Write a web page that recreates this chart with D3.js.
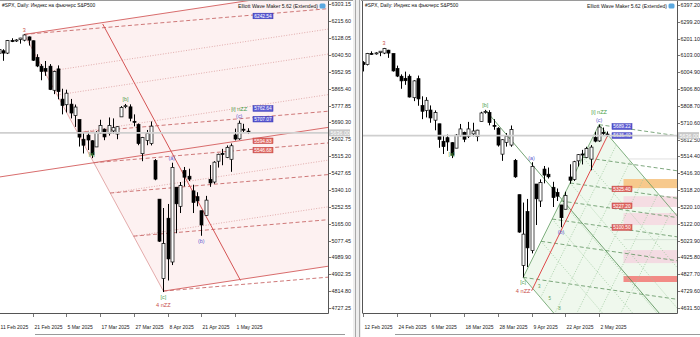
<!DOCTYPE html>
<html>
<head>
<meta charset="utf-8">
<script src="https://cdn.jsdelivr.net/npm/d3@7"></script>
<style>
  body { margin: 0; background: #fff; }
  svg text { font-family: "Liberation Sans", Arial, sans-serif; }
</style>
</head>
<body>
<svg id="chart" width="700" height="337"></svg>
<script>
// daily bars, 11 Feb 2025 .. 6 May 2025 (index 0..59)
const dates = ["11 Feb","12 Feb","13 Feb","14 Feb","17 Feb","18 Feb","19 Feb","20 Feb","21 Feb","24 Feb",
  "25 Feb","26 Feb","27 Feb","28 Feb","3 Mar","4 Mar","5 Mar","6 Mar","7 Mar","10 Mar",
  "11 Mar","12 Mar","13 Mar","14 Mar","17 Mar","18 Mar","19 Mar","20 Mar","21 Mar","24 Mar",
  "25 Mar","26 Mar","27 Mar","28 Mar","31 Mar","1 Apr","2 Apr","3 Apr","4 Apr","7 Apr",
  "8 Apr","9 Apr","10 Apr","11 Apr","14 Apr","15 Apr","16 Apr","17 Apr","21 Apr","22 Apr",
  "23 Apr","24 Apr","25 Apr","28 Apr","29 Apr","30 Apr","1 May","2 May","5 May","6 May"];
const opens  = [6049,6062,6050,6115,6114,6121,6117,6134,6114,6027, 5982,5970,5982,5857,5968,5811,5782,5785,5726,5705,
  5603,5624,5595,5563,5635,5655,5632,5646,5630,5719, 5775,5771,5696,5679,5528,5597,5581,5492,5292,4880,
  5193,4966,5354,5255,5441,5411,5335,5305,5232,5207, 5395,5381,5489,5529,5508,5499,5625,5605,5655,5645];
const highs  = [6076,6070,6118,6127,6122,6129,6147,6136,6115,6044, 5993,6009,5993,5959,5986,5865,5860,5812,5783,5705,
  5636,5642,5598,5645,5704,5659,5716,5711,5670,5775, 5786,5784,5732,5685,5615,5651,5695,5500,5292,5246,
  5267,5481,5354,5381,5459,5450,5367,5328,5232,5309, 5469,5489,5528,5553,5571,5581,5658,5700,5683,5660];
const lows   = [6042,6010,6045,6107,6108,6099,6111,6089,6009,5977, 5909,5932,5858,5837,5810,5732,5742,5711,5667,5565,
  5529,5547,5505,5563,5632,5598,5622,5632,5603,5719, 5764,5696,5670,5572,5489,5572,5571,5390,5070,4810,
  4870,4950,5115,5220,5358,5386,5220,5255,5102,5207, 5356,5372,5456,5468,5505,5434,5597,5600,5640,5630];
const closes = [6068,6050,6115,6114,6118,6128,6144,6117,6013,5983, 5955,5956,5861,5955,5850,5778,5842,5739,5770,5614,
  5572,5599,5522,5639,5675,5615,5675,5663,5668,5768, 5777,5712,5693,5581,5612,5633,5671,5396,5074,5062,
  4982,5457,5268,5363,5406,5396,5275,5283,5158,5287, 5376,5484,5525,5528,5561,5569,5604,5686,5650,5638];

const bidPrice = 5636;

const leftTicks  = [6303.15,6215.60,6128.05,6040.50,5952.95,5865.40,5777.85,5690.30,5602.75,5515.20,
  5427.65,5340.10,5252.55,5165.00,5077.45,4989.90,4902.35,4814.80,4727.25];
const rightTicks = [6397.20,6299.20,6201.10,6103.00,6004.90,5906.80,5808.70,5710.60,5612.50,5514.40,
  5416.30,5318.20,5220.10,5122.00,5023.90,4925.80,4827.70,4729.60,4631.50];
const leftDateIdx  = [0,8,16,24,32,40,48,56];
const rightDateIdx = [1,9,17,25,33,41,49,57];

// wave labels: [bar, price, text, kind]  kind: r = red, g = green, b = blue
const leftWaves  = [[6,6147,"3","r"],[30,5786,"[b]","g"],[22,5505,"[a]","g"],[41,5481,"(a)","b"],
  [48,5102,"(b)","b"],[57,5700,"(c)","b"],[57,5738,"[i] nZZ","g"],[39,4810,"[c]","g"],[39,4770,"4 nZZ","r"]];
const rightWaves = [[6,6147,"3","r"],[30,5786,"[b]","g"],[22,5505,"[a]","g"],[41,5481,"(a)","b"],
  [48,5102,"(b)","b"],[57,5700,"(c)","b"],[57,5746,"[i] nZZ","g"],[39,4810,"[c]","g"],[39,4762,"4 nZZ","r"]];

// price tags: [price, text, colour]
const leftTags  = [[6242.54,"6242.54","b"],[5762.64,"5762.64","b"],[5707.07,"5707.07","b"],
  [5594.83,"5594.83","r"],[5546.68,"5546.68","r"]];
const rightTags = [[5689.22,"5689.22","b"],[5636.40,"5636.40","b"],[5325.40,"5325.40","r"],
  [5227.20,"5227.20","r"],[5100.50,"5100.50","r"]];

// right-hand target zones: [low, high, colour]
const zones = [[5330,5383,"#f7c98c"],[5220,5283,"#f5dde3"],[5115,5185,"#f5dde3"],[4893,4969,"#f3dbe2"],[4783,4818,"#f28b86"]];

// fan anchors (bar, price)
const P3 = [6, 6147], A0 = [22, 5505], C0 = [39, 4815];
const fanLevels  = [0, 0.146, 0.236, 0.382, 0.5, 0.618, 0.786, 1];
const steepStyle = ["solid","dot","dot","dot","solid","dot","dot","solid"];
const flatStyle  = ["dash",null,null,"dash","dash","dash","dash","dash"];
const steepRise = 3.3, flatRise = 1.85;

const RC = [39, 4810], RTop = [57, 5700], RLast = [59, 5635], RStart = [41, 4732], RB = [30, 5786];
const gLevels = [0, 0.236, 0.382, 0.5, 0.618, 0.786, 1];
const gUpStarts = [0.25, 0.45, 0.65, 0.85, 1.05];
const gDrop = -28.7, gFlat = -3.5, gUp = 49.5;

const svg = d3.select("#chart");
const fs = 5.4;

function panel(opt) {
  const x = d3.scaleLinear().domain([0, 1]).range([opt.x0, opt.x0 + 4.215]);
  const y = d3.scaleLinear().domain(opt.domain).range([308, opt.top]);
  const g = svg.append("g");
  const clipId = "clip" + opt.id;
  svg.append("clipPath").attr("id", clipId).append("rect")
    .attr("x", opt.left).attr("y", 1).attr("width", opt.right - opt.left).attr("height", 312);
  const plot = g.append("g").attr("clip-path", `url(#${clipId})`);
  return { x, y, g, plot };
}

function seg(layer, x, y, p1, p2, color, style, w) {
  const dash = style === "dash" ? "4,2.5" : style === "dot" ? "1,1.6" : null;
  layer.append("line")
    .attr("x1", x(p1[0])).attr("y1", y(p1[1])).attr("x2", x(p2[0])).attr("y2", y(p2[1]))
    .attr("stroke", color).attr("stroke-width", w || 0.8)
    .attr("stroke-dasharray", dash);
}

function candles(layer, x, y) {
  const bars = d3.range(dates.length);
  layer.selectAll(null).data(bars).enter().append("line")
    .attr("x1", i => Math.round(x(i)) + 0.5).attr("x2", i => Math.round(x(i)) + 0.5)
    .attr("y1", i => y(highs[i])).attr("y2", i => y(lows[i]))
    .attr("stroke", "#000").attr("stroke-width", 1);
  layer.selectAll(null).data(bars).enter().append("rect")
    .attr("x", i => Math.round(x(i)) - 1)
    .attr("y", i => y(Math.max(opens[i], closes[i])))
    .attr("width", 3)
    .attr("height", i => Math.max(1, Math.abs(y(opens[i]) - y(closes[i]))))
    .attr("fill", i => closes[i] >= opens[i] ? "#fff" : "#000")
    .attr("stroke", "#000").attr("stroke-width", 0.7);
}

function axes(p, opt, ticks, dateIdx) {
  const { g, x, y } = p;
  g.append("line").attr("x1", opt.right + 0.5).attr("x2", opt.right + 0.5).attr("y1", 0).attr("y2", 313.5)
    .attr("stroke", "#555").attr("stroke-width", 1);
  g.append("line").attr("x1", opt.left).attr("x2", opt.right + 0.5).attr("y1", 313.5).attr("y2", 313.5)
    .attr("stroke", "#555").attr("stroke-width", 1);
  ticks.forEach(t => {
    const yy = Math.round(y(t)) + 0.5;
    g.append("line").attr("x1", opt.right).attr("x2", opt.right + 3).attr("y1", yy).attr("y2", yy)
      .attr("stroke", "#555").attr("stroke-width", 0.8);
    g.append("text").attr("x", opt.right + 3.5).attr("y", yy + 1.9).attr("font-size", fs)
      .attr("fill", "#222").text(t.toFixed(2));
  });
  dateIdx.forEach(i => {
    const xx = Math.round(x(i)) + 0.5;
    g.append("line").attr("x1", xx).attr("x2", xx).attr("y1", 313).attr("y2", 317)
      .attr("stroke", "#555").attr("stroke-width", 0.8);
    g.append("text").attr("x", xx + 1).attr("y", 329).attr("font-size", 5).attr("fill", "#222")
      .text(dates[i] + " 2025");
  });
  // bid line
  const by = y(bidPrice);
  p.plot.append("line").attr("x1", opt.left).attr("x2", opt.right).attr("y1", by).attr("y2", by)
    .attr("stroke", "#cfcfcf").attr("stroke-width", 1.6);
  g.append("rect").attr("x", opt.right + 1).attr("y", by - 3.5).attr("width", 21).attr("height", 7).attr("fill", "#c8c8c8");
  g.append("text").attr("x", opt.right + 2.5).attr("y", by + 1.9).attr("font-size", fs).attr("fill", "#fff")
    .text(bidPrice.toFixed(2));
  // header texts
  g.append("text").attr("x", opt.left + 2).attr("y", 7).attr("font-size", 4.9).attr("fill", "#111")
    .text("#SPX, Daily:  Индекс на фьючерс S&P500");
  g.append("text").attr("x", opt.right - 10).attr("y", 8).attr("font-size", 5.1).attr("fill", "#111")
    .attr("text-anchor", "end").text("Elliott Wave Maker 5.62 (Extended)");
  g.append("rect").attr("x", opt.right - 8.5).attr("y", 3.5).attr("width", 6).attr("height", 5)
    .attr("rx", 1.5).attr("fill", "#5aa8e0");
}

function waveLabels(p, list) {
  const col = { r: "#c8504a", g: "#4aa04a", b: "#5a5ad0" };
  list.forEach(([i, price, t, k]) => {
    const below = price < 5300 && t !== "(a)";
    const yy = p.y(price) + (below ? 7 : -2.5);
    p.plot.append("text").attr("x", p.x(i)).attr("y", yy).attr("text-anchor", "middle")
      .attr("font-size", t.indexOf("nZZ") >= 0 ? 5.6 : 5.4).attr("fill", col[k]).text(t);
  });
}

function tags(p, list, xStart) {
  list.forEach(([price, t, k]) => {
    const yy = p.y(price);
    const fill = k === "b" ? "#5b5bd2" : "#df6a64";
    p.plot.append("rect").attr("x", xStart).attr("y", yy - 2.8).attr("width", 20).attr("height", 5.6)
      .attr("fill", fill).attr("stroke", k === "b" ? "#2b2bb0" : "#c03a3a").attr("stroke-width", 0.5);
    p.plot.append("text").attr("x", xStart + 10).attr("y", yy + 1.8).attr("text-anchor", "middle")
      .attr("font-size", 4.8).attr("fill", "#fff").text(t);
  });
}

// ---------------- left panel ----------------
const Lopt = { id: "L", x0: -1, left: 0, right: 328, top: 4.3, domain: [4727.25, 6303.15] };
const L = panel(Lopt);
{
  const { x, y, plot } = L;
  const iEnd = 80;
  const node = f => [P3[0] + (C0[0] - P3[0]) * f, P3[1] + (C0[1] - P3[1]) * f];
  const topEnd = [iEnd, P3[1] + (iEnd - P3[0]) * steepRise];
  const botEnd = [iEnd, C0[1] + (iEnd - C0[0]) * steepRise];
  plot.append("path")
    .attr("d", d3.line().x(d => x(d[0])).y(d => y(d[1]))([P3, topEnd, botEnd, C0]))
    .attr("fill", "#fdf1f1");
  seg(plot, x, y, P3, C0, "#d98a8a", "solid", 0.7);
  fanLevels.forEach((f, k) => {
    const n = node(f);
    const sStart = f === 0.5 ? [-2, n[1] + (-2 - n[0]) * steepRise] : n;
    const st = steepStyle[k];
    seg(plot, x, y, sStart, [iEnd, n[1] + (iEnd - n[0]) * steepRise],
      st === "solid" ? "#d45c5c" : "#d99a9a", st, st === "solid" ? 0.9 : 0.8);
    if (flatStyle[k]) seg(plot, x, y, n, [iEnd, n[1] + (iEnd - n[0]) * flatRise], "#c86a6a", "dash", 0.9);
  });
  seg(plot, x, y, [24.6, 6201], [57.3, 4870], "#d45454", "solid", 1);
  candles(plot, x, y);
  waveLabels(L, leftWaves);
  tags(L, leftTags, 253);
  axes(L, Lopt, leftTicks, leftDateIdx);
}

// ---------------- right panel ----------------
const Ropt = { id: "R", x0: 358.8, left: 363, right: 677, top: 5, domain: [4631.5, 6397.2] };
const R = panel(Ropt);
{
  const { x, y, plot } = R;
  const iEnd = 78;
  const node = f => [RC[0] + (RTop[0] - RC[0]) * f, RC[1] + (RTop[1] - RC[1]) * f];
  const along = (p0, slope, i) => [i, p0[1] + (i - p0[0]) * slope];
  const gEnd = along(RTop, gDrop, iEnd);
  const cBot = along(RC, gDrop, 47.5);
  plot.append("path")
    .attr("d", d3.line().x(d => x(d[0])).y(d => y(d[1]))([RC, RTop, gEnd, [iEnd, 4500], [47.5, 4500], cBot]))
    .attr("fill", "#eff8ed");
  zones.forEach(([lo, hi, c]) => {
    plot.append("rect").attr("x", x(62.8)).attr("width", Ropt.right - x(62.8))
      .attr("y", y(hi)).attr("height", y(lo) - y(hi)).attr("fill", c);
  });
  gLevels.forEach(f => {
    const n = node(f);
    const solid = f === 0 || f === 1;
    seg(plot, x, y, n, along(n, gDrop, iEnd), solid ? "#5f9a5f" : "#9cc89c", solid ? "solid" : "dot", 0.8);
    seg(plot, x, y, n, along(n, gFlat, iEnd), "#5e925e", "dash", 0.8);
  });
  // rising dotted lines, from the lower edge up to the upper fan line
  gUpStarts.forEach(f => {
    const b = along(RC, gDrop, RC[0] + 7.5 * f * 2.2);
    const iHit = (RTop[1] - RTop[0] * gDrop - b[1] + b[0] * gUp) / (gUp - gDrop);
    seg(plot, x, y, b, along(b, gUp, iHit), "#9cc89c", "dot", 0.8);
  });
  seg(plot, x, y, RC, RTop, "#5f9a5f", "solid", 0.8);
  seg(plot, x, y, RB, along(RB, gDrop, 72), "#4f8a4f", "solid", 0.8);
  seg(plot, x, y, RStart, RLast, "#e04a4a", "solid", 1);
  plot.append("line").attr("x1", x(64)).attr("x2", Ropt.right).attr("y1", y(5500)).attr("y2", y(5500))
    .attr("stroke", "#d8d8d8").attr("stroke-width", 0.8);
  plot.append("line").attr("x1", x(62.8)).attr("x2", Ropt.right).attr("y1", y(5030)).attr("y2", y(5030))
    .attr("stroke", "#cfdccf").attr("stroke-width", 0.8);
  candles(plot, x, y);
  waveLabels(R, rightWaves);
  tags(R, rightTags, 612);
  [[42.5, 4750, "3"], [45, 4680, "5"], [47.3, 4620, "8"]].forEach(([i, p, t]) =>
    plot.append("text").attr("x", x(i)).attr("y", y(p)).attr("font-size", 4.5).attr("fill", "#5aa05a").text(t));
  axes(R, Ropt, rightTicks, rightDateIdx);
  R.g.append("line").attr("x1", 362.5).attr("x2", 362.5).attr("y1", 0).attr("y2", 313.5).attr("stroke", "#555");
}

// window frame
svg.append("line").attr("x1", 0).attr("x2", 700).attr("y1", 0.5).attr("y2", 0.5).attr("stroke", "#9a9a9a");
svg.append("rect").attr("x", 353).attr("y", 0).attr("width", 8).attr("height", 337).attr("fill", "#eeeeee");
svg.append("line").attr("x1", 355.5).attr("x2", 355.5).attr("y1", 0).attr("y2", 337).attr("stroke", "#a8a8a8");
svg.append("line").attr("x1", 359.5).attr("x2", 359.5).attr("y1", 0).attr("y2", 337).attr("stroke", "#a8a8a8");
svg.append("line").attr("x1", 35).attr("x2", 345).attr("y1", 334.5).attr("y2", 334.5).attr("stroke", "#9a9a9a");
svg.append("line").attr("x1", 395).attr("x2", 700).attr("y1", 334.5).attr("y2", 334.5).attr("stroke", "#9a9a9a");
</script>
</body>
</html>
